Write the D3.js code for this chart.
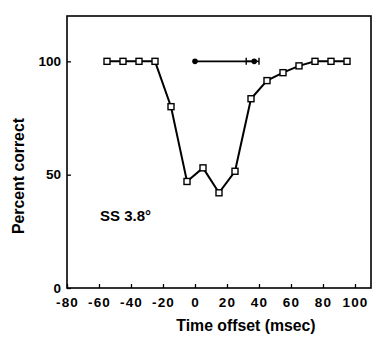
<!DOCTYPE html>
<html><head><meta charset="utf-8">
<script src="https://cdn.jsdelivr.net/npm/d3@7"></script>
<style>body{margin:0;background:#fff}svg{display:block}text{font-family:"Liberation Sans",Arial,sans-serif;font-weight:bold;fill:#000}</style>
</head><body>
<script>
const offsets = [-55,-45,-35,-25,-15,-5,5,15,25,35,45,55,65,75,85,95];
const percent = [100,100,100,100,80,47,53,42,51.5,83.5,91.5,95,98,100,100,100];
const rangeLine = [0,37];
const rangeY = 100;
const errBar = [32,40];
const xTicks = [-80,-60,-40,-20,0,20,40,60,80,100];
const yTicks = [0,50,100];
const label = "SS 3.8°";

const W=388,H=345;
const svg=d3.select("body").append("svg").attr("width",W).attr("height",H);
const x=d3.scaleLinear().domain([-80,110]).range([67,371]);
const y=d3.scaleLinear().domain([0,120]).range([288,16]);

svg.append("rect").attr("x",67).attr("y",16).attr("width",304).attr("height",272)
  .attr("fill","none").attr("stroke","#000").attr("stroke-width",1.6);

const xa=svg.append("g").attr("transform","translate(0,288)")
  .call(d3.axisBottom(x).tickValues(xTicks).tickFormat(d=>String(d)).tickSizeInner(-4).tickSizeOuter(0).tickPadding(9));
xa.select(".domain").remove();
xa.selectAll("line").attr("stroke-width",1.3);
xa.selectAll("text").attr("font-size",13.5).style("letter-spacing","1.2px").attr("font-family",null);

const ya=svg.append("g").attr("transform","translate(67,0)")
  .call(d3.axisLeft(y).tickValues(yTicks).tickFormat(d=>String(d)).tickSizeInner(-4).tickSizeOuter(0).tickPadding(6));
ya.select(".domain").remove();
ya.selectAll("line").attr("stroke-width",1.3);
ya.selectAll("text").attr("font-size",13.5).attr("font-family",null);

svg.append("line").attr("x1",x(rangeLine[0])).attr("x2",x(rangeLine[1]))
  .attr("y1",y(rangeY)).attr("y2",y(rangeY)).attr("stroke","#000").attr("stroke-width",1.8);
svg.append("line").attr("x1",x(errBar[0])).attr("x2",x(errBar[1]))
  .attr("y1",y(rangeY)).attr("y2",y(rangeY)).attr("stroke","#000").attr("stroke-width",1.5);
errBar.forEach(v=>svg.append("line").attr("x1",x(v)).attr("x2",x(v))
  .attr("y1",y(rangeY)-3.5).attr("y2",y(rangeY)+3.5).attr("stroke","#000").attr("stroke-width",1.4));
rangeLine.forEach(v=>svg.append("circle").attr("cx",x(v)).attr("cy",y(rangeY)).attr("r",2.8).attr("fill","#000"));

const pts=offsets.map((o,i)=>[o,percent[i]]);
svg.append("path").datum(pts).attr("fill","none").attr("stroke","#000").attr("stroke-width",2)
  .attr("d",d3.line().x(d=>x(d[0])).y(d=>y(d[1])));
svg.selectAll("rect.m").data(pts).join("rect").attr("class","m")
  .attr("x",d=>x(d[0])-3).attr("y",d=>y(d[1])-3).attr("width",6).attr("height",6)
  .attr("fill","#fff").attr("stroke","#000").attr("stroke-width",1.4);

svg.append("text").attr("x",100).attr("y",221).attr("font-size",15).text(label);
svg.append("text").attr("x",246).attr("y",331).attr("text-anchor","middle").attr("font-size",15.8).text("Time offset (msec)");
svg.append("text").attr("transform","translate(24,176) rotate(-90)").attr("text-anchor","middle").attr("font-size",15.8).text("Percent correct");
</script>
</body></html>
